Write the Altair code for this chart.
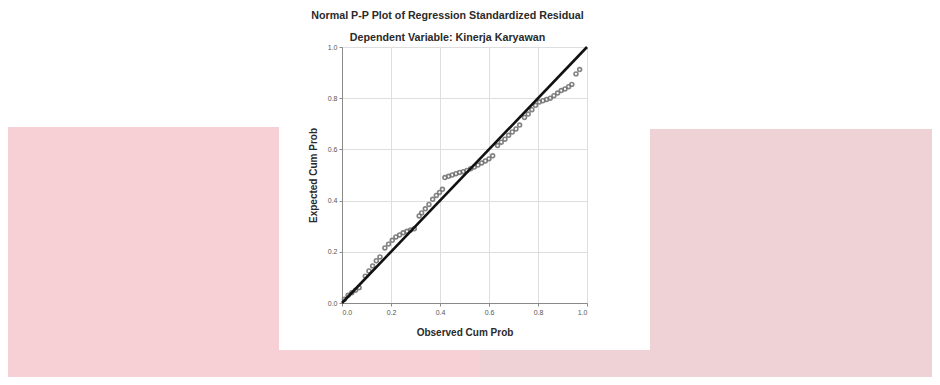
import altair as alt
import pandas as pd

# P-P plot points (observed cum prob, expected cum prob)
observed = [0.010, 0.025, 0.040, 0.055, 0.070, 0.095, 0.110, 0.125, 0.140, 0.155,
            0.175, 0.190, 0.205, 0.220, 0.235, 0.250, 0.265, 0.280, 0.295, 0.315,
            0.325, 0.340, 0.355, 0.370, 0.385, 0.398, 0.410, 0.420, 0.435, 0.450,
            0.465, 0.480, 0.495, 0.510, 0.525, 0.540, 0.555, 0.570, 0.585, 0.600,
            0.615, 0.635, 0.650, 0.665, 0.680, 0.695, 0.710, 0.725, 0.745, 0.760,
            0.775, 0.790, 0.805, 0.820, 0.835, 0.850, 0.865, 0.880, 0.895, 0.910,
            0.925, 0.938, 0.955, 0.970]
expected = [0.015, 0.030, 0.040, 0.050, 0.060, 0.105, 0.125, 0.145, 0.165, 0.180,
            0.215, 0.230, 0.245, 0.258, 0.266, 0.274, 0.280, 0.285, 0.290, 0.340,
            0.352, 0.368, 0.385, 0.405, 0.420, 0.432, 0.444, 0.490, 0.495, 0.500,
            0.505, 0.510, 0.513, 0.518, 0.524, 0.531, 0.539, 0.547, 0.555, 0.563,
            0.575, 0.615, 0.628, 0.640, 0.655, 0.668, 0.680, 0.695, 0.725, 0.738,
            0.755, 0.772, 0.785, 0.790, 0.795, 0.800, 0.810, 0.820, 0.830, 0.836,
            0.845, 0.854, 0.895, 0.912]

ref_x = [0.0, 1.0]
ref_y = [0.0, 1.0]
ticks = [0.0, 0.2, 0.4, 0.6, 0.8, 1.0]

pts = pd.DataFrame({"obs": observed, "exp": expected})
ref = pd.DataFrame({"obs": ref_x, "exp": ref_y})
one = pd.DataFrame({"k": [0]})

xs = alt.Scale(domain=[0, 1], nice=False)
ys = alt.Scale(domain=[0, 1], nice=False)

x_enc = alt.X("obs:Q", scale=xs, title="Observed Cum Prob",
              axis=alt.Axis(values=ticks, format=".1f", titlePadding=12))
y_enc = alt.Y("exp:Q", scale=ys, title="Expected Cum Prob",
              axis=alt.Axis(values=ticks, format=".1f", titlePadding=9))

# decorative page background (pink panels around the white figure)
bg = alt.Chart(one)
pink_l = bg.mark_rect(color="#f6d0d4").encode(
    x=alt.value(-334), x2=alt.value(-63), y=alt.value(80), y2=alt.value(340))
pink_r = bg.mark_rect(color="#eed2d5").encode(
    x=alt.value(308), x2=alt.value(600), y=alt.value(82), y2=alt.value(340))
pink_bl = bg.mark_rect(color="#f6d0d4").encode(
    x=alt.value(-63), x2=alt.value(138), y=alt.value(303), y2=alt.value(340))
pink_br = bg.mark_rect(color="#eed2d5").encode(
    x=alt.value(138), x2=alt.value(308), y=alt.value(303), y2=alt.value(340))

points = alt.Chart(pts).mark_point(
    filled=False, size=15, strokeWidth=1.6, color="#6e6e6e", opacity=0.85
).encode(x=x_enc, y=y_enc)

line = alt.Chart(ref).mark_line(color="#111111", strokeWidth=2.6).encode(
    x=alt.X("obs:Q", scale=xs), y=alt.Y("exp:Q", scale=ys))

chart = alt.layer(pink_l, pink_r, pink_bl, pink_br, points, line).properties(
    width=245, height=256,
    autosize=alt.AutoSizeParams(type="none"),
    padding={"left": 334, "top": 39, "right": 345, "bottom": 74},
    background="white",
    title=alt.TitleParams(
        text="Normal P-P Plot of Regression Standardized Residual",
        subtitle="Dependent Variable: Kinerja Karyawan",
        font="Liberation Sans", subtitleFont="Liberation Sans",
        fontSize=10.7, subtitleFontSize=10.7,
        fontWeight="bold", subtitleFontWeight="bold",
        color="#2a2a2a", subtitleColor="#2a2a2a",
        anchor="middle", dx=-17, offset=-2, subtitlePadding=11,
    ),
).configure_view(stroke=None).configure_axis(
    domainColor="#8a8a8a", gridColor="#dedede", tickColor="#8a8a8a",
    tickSize=3, labelFontSize=7, labelColor="#555555", labelFont="Liberation Sans",
    titleFont="Liberation Sans", titleFontSize=10, titleFontWeight="bold",
    titleColor="#2a2a2a", labelPadding=2,
)

chart.save("out.html", embed_options={"renderer": "svg", "actions": False})
